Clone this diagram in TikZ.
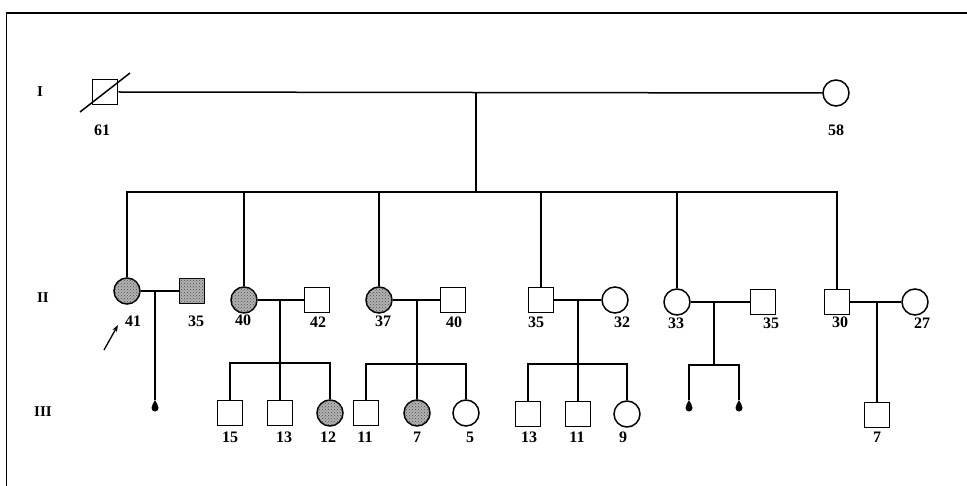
\documentclass[tikz,border=0pt]{standalone}
\usepackage{fontspec}
\setmainfont{Liberation Serif}
\usetikzlibrary{arrows.meta,patterns}
\begin{document}
\begin{tikzpicture}[x=1pt,y=-1pt,
  ln/.style={line width=1.5pt},
  male/.style={draw,line width=1.5pt,rectangle,minimum size=25pt,inner sep=0pt},
  female/.style={draw,line width=1.5pt,circle,minimum size=26pt,inner sep=0pt},
  aff/.style={fill=gray!60,postaction={pattern=crosshatch dots,pattern color=black!70}},
  lab/.style={font=\bfseries\fontsize{16}{18}\selectfont,inner sep=0pt},
  gen/.style={font=\bfseries\fontsize{15}{17}\selectfont,inner sep=0pt},
  drop/.pic={\fill (0,0) .. controls (1.5,3) and (3.5,5.5) .. (3.5,8) .. controls (3.5,10) and (1.9,11.5) .. (0,11.5) .. controls (-1.9,11.5) and (-3.5,10) .. (-3.5,8) .. controls (-3.5,5.5) and (-1.5,3) .. (0,0) -- cycle;}]
\useasboundingbox (0,0) rectangle (967,486);
% frame
\draw[line width=2pt] (6,13) -- (967,13);
\draw[line width=1pt] (6,13) -- (6,486);
% generation labels
\node[gen] (gI) at (40,92) {I};
\node[gen] (gII) at (43,298) {II};
\node[gen] (gIII) at (43,412) {III};
% generation I
\node[male] (p61) at (105,92) {};
\node[female] (p58) at (836,93) {};
\coordinate (x1) at (80,112);
\coordinate (x2) at (130,73);
\draw[ln] (x1) -- (x2);
\node[lab] (l61) at (102,130) {61};
\node[lab] (l58) at (836,130) {58};
\draw[ln] (p61.east) -- (p58.west);
\coordinate (m0) at (476,92.5);
\coordinate (sib0) at (476,192);
% generation II
\node[female,aff] (c41) at (127,291) {};
\node[male,aff] (s35a) at (192,291) {};
\node[female,aff] (c40) at (244,300) {};
\node[male] (s42) at (317,300) {};
\node[female,aff] (c37) at (379,300) {};
\node[male] (s40) at (453,300) {};
\node[male] (s35b) at (541,300) {};
\node[female] (c32) at (615,300) {};
\node[female] (c33) at (677,302) {};
\node[male] (s35c) at (763,302) {};
\node[male] (s30) at (837,302) {};
\node[female] (c27) at (915,302) {};
\draw[ln] (m0) -- (sib0);
\draw[ln] (c41.north) |- (sib0) -| (s30.north);
\foreach \n in {c40,c37,s35b,c33} \draw[ln] (\n.north) -- (\n.north |- sib0);
\node[lab] (l41) at (133,321) {41};
\node[lab] (l35a) at (196,321) {35};
\node[lab] (l40a) at (243,320) {40};
\node[lab] (l42) at (318,322) {42};
\node[lab] (l37) at (383,321) {37};
\node[lab] (l40b) at (454,322) {40};
\node[lab] (l35b) at (536,322) {35};
\node[lab] (l32) at (622,322) {32};
\node[lab] (l33) at (676,323) {33};
\node[lab] (l35c) at (771,323) {35};
\node[lab] (l30) at (840,322) {30};
\node[lab] (l27) at (922,323) {27};
% proband arrow
\coordinate (a1) at (104,350);
\coordinate (a2) at (118,325);
\draw[line width=1.3pt,-{Stealth[length=7pt,width=5pt]}] (a1) -- (a2);
% couple 1
\draw[ln] (c41.east) -- (s35a.west);
\coordinate (k1) at (155,291);
\coordinate (d1) at (155,400);
\draw[ln] (k1) -- (d1);
\pic at (d1) {drop};
% couple 2
\draw[ln] (c40.east) -- (s42.west);
\coordinate (k2) at (280,300);
\coordinate (j2) at (280,363);
\node[male] (k15) at (230,413) {};
\node[male] (k13a) at (280,413) {};
\node[female,aff] (k12) at (330,413) {};
\draw[ln] (k2) -- (k13a.north);
\draw[ln] (k15.north) |- (j2) -| (k12.north);
\node[lab] (l15) at (230,437) {15};
\node[lab] (l13a) at (284,437) {13};
\node[lab] (l12) at (328,437) {12};
% couple 3
\draw[ln] (c37.east) -- (s40.west);
\coordinate (k3) at (417,300);
\coordinate (j3) at (417,364);
\node[male] (k11a) at (366,413) {};
\node[female,aff] (k7a) at (417,413) {};
\node[female] (k5) at (466,413) {};
\draw[ln] (k3) -- (k7a.north);
\draw[ln] (k11a.north) |- (j3) -| (k5.north);
\node[lab] (l11a) at (365,437) {11};
\node[lab] (l7a) at (417,437) {7};
\node[lab] (l5) at (470,437) {5};
% couple 4
\draw[ln] (s35b.east) -- (c32.west);
\coordinate (k4) at (578,300);
\coordinate (j4) at (578,364);
\node[male] (k13b) at (528,414) {};
\node[male] (k11b) at (578,414) {};
\node[female] (k9) at (627,414) {};
\draw[ln] (k4) -- (k11b.north);
\draw[ln] (k13b.north) |- (j4) -| (k9.north);
\node[lab] (l13b) at (529,437) {13};
\node[lab] (l11b) at (577,437) {11};
\node[lab] (l9) at (623,437) {9};
% couple 5
\draw[ln] (c33.east) -- (s35c.west);
\coordinate (k5c) at (714,302);
\coordinate (j5) at (714,365);
\coordinate (d2) at (689,400);
\coordinate (d3) at (739,400);
\draw[ln] (k5c) -- (j5);
\draw[ln] (d2) |- (j5) -| (d3);
\pic at (d2) {drop};
\pic at (d3) {drop};
% couple 6
\draw[ln] (s30.east) -- (c27.west);
\coordinate (k6) at (877,302);
\node[male] (k7b) at (877,415) {};
\draw[ln] (k6) -- (k7b.north);
\node[lab] (l7b) at (877,437) {7};
\end{tikzpicture}
\end{document}
